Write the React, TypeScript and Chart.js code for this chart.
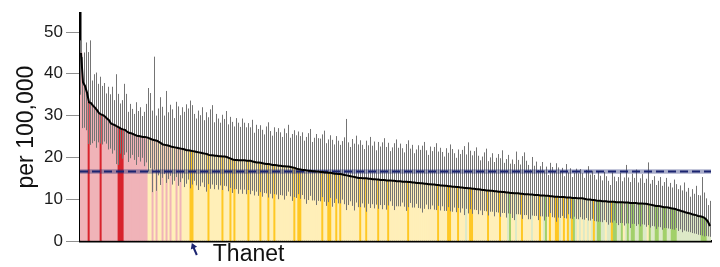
import React, { useEffect, useRef } from "react";
import { Chart, registerables } from "chart.js";

Chart.register(...registerables);

// Rate per 100,000 for each area, sorted descending
const rates: number[] = [
  45.0, 38.0, 37.1, 35.5, 33.2, 33.0, 32.4, 31.9, 31.3, 30.6,
  30.3, 30.1, 29.8, 29.3, 28.9, 28.1, 27.9, 27.7, 27.4, 27.2,
  26.9, 26.7, 26.6, 26.2, 25.9, 25.8, 25.6, 25.4, 25.2, 25.1,
  25.0, 24.9, 24.9, 24.8, 24.6, 24.4, 24.2, 24.1, 24.0, 23.7,
  23.4, 23.1, 23.0, 22.9, 22.8, 22.6, 22.5, 22.4, 22.3, 22.2,
  22.1, 22.0, 21.9, 21.7, 21.7, 21.6, 21.5, 21.4, 21.3, 21.2,
  21.1, 21.0, 20.9, 20.8, 20.6, 20.5, 20.5, 20.4, 20.4, 20.3,
  20.3, 20.2, 20.2, 20.1, 19.9, 19.7, 19.5, 19.4, 19.4, 19.3,
  19.3, 19.3, 19.3, 19.2, 19.2, 19.2, 19.0, 18.9, 18.8, 18.8,
  18.7, 18.6, 18.5, 18.4, 18.4, 18.3, 18.2, 18.2, 18.1, 18.0,
  18.0, 17.9, 17.9, 17.8, 17.8, 17.7, 17.6, 17.5, 17.3, 17.2,
  17.1, 17.0, 17.0, 16.9, 16.8, 16.8, 16.7, 16.7, 16.6, 16.6,
  16.5, 16.5, 16.4, 16.4, 16.3, 16.3, 16.2, 16.1, 16.1, 16.0,
  16.0, 15.9, 15.8, 15.7, 15.6, 15.5, 15.4, 15.3, 15.2, 15.1,
  15.1, 15.0, 15.0, 15.0, 14.9, 14.9, 14.8, 14.8, 14.7, 14.7,
  14.6, 14.6, 14.6, 14.5, 14.5, 14.5, 14.4, 14.4, 14.3, 14.3,
  14.3, 14.2, 14.2, 14.2, 14.1, 14.1, 14.0, 14.0, 13.9, 13.9,
  13.8, 13.8, 13.7, 13.7, 13.6, 13.6, 13.5, 13.5, 13.4, 13.4,
  13.3, 13.3, 13.2, 13.2, 13.1, 13.1, 13.0, 13.0, 12.9, 12.9,
  12.8, 12.8, 12.7, 12.7, 12.6, 12.6, 12.5, 12.5, 12.4, 12.4,
  12.3, 12.2, 12.2, 12.1, 12.1, 12.0, 12.0, 11.9, 11.9, 11.8,
  11.8, 11.7, 11.7, 11.6, 11.6, 11.5, 11.5, 11.4, 11.4, 11.4,
  11.3, 11.3, 11.2, 11.2, 11.2, 11.1, 11.1, 11.0, 11.0, 11.0,
  10.9, 10.9, 10.9, 10.8, 10.8, 10.7, 10.7, 10.6, 10.6, 10.6,
  10.5, 10.5, 10.5, 10.4, 10.4, 10.4, 10.3, 10.3, 10.3, 10.2,
  10.2, 10.2, 10.1, 10.0, 9.9, 9.9, 9.8, 9.8, 9.7, 9.6,
  9.6, 9.5, 9.5, 9.5, 9.4, 9.4, 9.4, 9.4, 9.3, 9.3,
  9.3, 9.3, 9.2, 9.2, 9.2, 9.1, 9.1, 9.1, 9.1, 9.0,
  9.0, 9.0, 8.9, 8.9, 8.8, 8.7, 8.6, 8.5, 8.4, 8.4,
  8.3, 8.2, 8.1, 8.1, 8.0, 7.9, 7.8, 7.7, 7.6, 7.4,
  7.3, 7.1, 7.0, 6.8, 6.7, 6.6, 6.4, 6.3, 6.2, 6.0,
  5.9, 5.8, 5.6, 5.2, 4.6, 3.6,
];

// Upper confidence interval distance above the rate
const errPlus: number[] = [
  3, 6, 8, 12, 12, 15, 6, 8, 9, 7,
  9, 7, 8, 6, 8, 7, 9, 6, 12.5, 8,
  6, 7, 11, 9, 5, 7, 6, 5, 8, 6,
  7, 5, 6, 8, 12, 11, 7, 20, 6, 8,
  11, 9, 7, 13, 8, 10, 9, 7, 11, 10,
  8, 10, 9, 11, 10, 12, 11, 9, 8, 10,
  9, 11, 8, 10, 9, 11, 12, 8, 10, 9,
  8, 10, 9, 11, 8, 10, 9, 8, 10, 9,
  8, 10, 9, 8, 9, 8, 10, 7, 9, 8,
  9, 8, 7, 9, 10, 8, 7, 9, 8, 9,
  8, 7, 9, 8, 10, 7, 8, 9, 8, 9,
  8, 9, 7, 8, 9, 10, 7, 8, 9, 8,
  8, 9, 10, 7, 8, 9, 8, 7, 9, 8,
  7, 8, 9, 13.5, 8, 7, 9, 8, 10, 8,
  9, 8, 7, 9, 8, 10, 8, 9, 7, 9,
  8, 9, 10, 8, 9, 7, 8, 9, 10, 8,
  9, 8, 7, 9, 10, 8, 9, 7, 8, 9,
  8, 9, 10, 8, 7, 9, 8, 9, 10, 8,
  9, 8, 7, 9, 8, 10, 9, 8, 7, 9,
  8, 9, 10, 8, 11, 9, 8, 9, 10, 8,
  7, 8, 9, 10, 7, 8, 9, 7, 8, 9,
  8, 10, 7, 8, 9, 7, 8, 7, 10, 8,
  7, 9, 10, 8, 7, 6, 9, 7, 8, 6,
  7, 8, 6, 7, 5, 8, 7, 6, 8, 7,
  6, 7, 5, 8, 6, 7, 5, 6, 7, 6,
  7, 6, 5, 7, 8, 6, 7, 6, 5, 7,
  6, 5, 7, 6, 5, 4, 7, 6, 5, 6,
  7, 5, 6, 9, 6, 5, 7, 6, 8, 5,
  6, 7, 5, 6, 10, 5, 6, 7, 5, 6,
  7, 5, 6, 7, 5, 6, 5, 7, 6, 5,
  6, 5, 7, 5, 6, 4, 6, 5, 7, 5,
  5, 9.5, 6, 5, 4, 6,
];

// Lower confidence interval distance below the rate
const errMinus: number[] = [
  10, 11, 10, 9, 10, 10, 9, 8, 9, 7,
  7, 7, 6, 6, 7, 6, 7, 6, 9, 9,
  6, 7, 6, 5, 7, 6, 5, 6, 7, 5,
  6, 5, 7, 6, 8, 7, 12.5, 7, 12, 8,
  10, 8, 7, 9, 8, 7, 9, 8, 7, 9,
  8, 7, 9, 8, 7, 9, 8, 7, 8, 9,
  8, 7, 8, 9, 7, 8, 7, 8, 7, 8,
  7, 8, 7, 7, 8, 7, 8, 7, 7, 8,
  7, 8, 7, 8, 7, 8, 7, 8, 7, 8,
  7, 8, 7, 7, 8, 7, 8, 7, 7, 8,
  7, 7, 8, 7, 6, 7, 8, 7, 7, 6,
  7, 6, 7, 8, 7, 6, 7, 7, 8, 7,
  7, 6, 7, 8, 7, 6, 8, 7, 6, 7,
  7, 6, 7, 8.3, 7, 6, 7, 8, 6, 7,
  7, 6, 7, 8, 6, 7, 6, 7, 6, 7,
  6, 7, 6, 7, 6, 5, 6, 7, 6, 6,
  6, 5, 6, 7, 6, 5, 6, 6, 5, 6,
  6, 7, 6, 5, 6, 6, 5, 6, 6, 5,
  6, 5, 6, 6, 5, 6, 6, 5, 6, 5,
  6, 5, 6.5, 5, 6, 5, 6, 5, 5, 6,
  5, 6, 5, 5, 6, 5, 5, 6, 5, 5,
  6, 5, 5, 6, 5, 5, 6, 6.4, 5, 5,
  5, 6, 5, 5, 6, 5.9, 5, 5, 5, 6,
  5, 5, 6, 5, 5, 4, 5, 5, 6, 5,
  5, 4.5, 5, 5, 4, 5, 5, 4.5, 5, 5,
  4.5, 5, 5, 4.5, 5, 5, 4.5, 5, 5, 5,
  5, 5, 4.5, 5, 5.5, 5, 5, 4.5, 5, 5.5,
  5, 5, 5.5, 5, 5, 6, 5, 5, 5.5, 5,
  5.5, 5, 5, 5.5, 5, 5.5, 5, 5, 5.5, 5,
  5, 5.5, 5, 5, 5, 5, 5, 5, 4.5, 5,
  4.5, 5, 4.5, 4.5, 4.5, 4.5, 4.5, 4.5, 4.5, 4.5,
  4.5, 4.5, 4.5, 4, 3.5, 2.6,
];

// Comparison category per area: p = higher (n.s.), r = significantly higher,
// y = similar, g = similar (flagged), l = lower (n.s.), G = significantly lower
const categoryCodes: string[] = [
  "pppprppppp", "rppppppppr", "rrpppppppp", "ppppyypypy", "ypypypyypy",
  "pyyyyggyyy", "yyyygyyyyy", "ygyyygygyy", "yyyygyyyyy", "gyyygyygyy",
  "yyyyyyygyg", "gyyyyyyyyy", "ygyyggyygy", "gyyyyyyyyy", "gyygyyyyyg",
  "yyyygyyyyy", "yyyygyyyyy", "yyyyyyyyyg", "yyyyggyyyg", "yyylyggyyy",
  "yyyygyyyyy", "gyyylGyyly", "ygyyyylyyy", "gylGygyygg", "lygyglgGly",
  "lylylylglG", "GllyllgGGl", "lGylGlGGll", "GGllyGllGG", "llGGllGGGl",
  "llllllllll", "lGGGll",
];

const categoryColors: Record<string, string> = {
  p: "#f0b3b8",
  r: "#d8232c",
  y: "#ffefb8",
  g: "#ffc824",
  l: "#dde9c7",
  G: "#a2d06a",
};

const englandRate = 16.6;
const englandLower = 16.1;
const englandUpper = 17.15;

const yTicks: number[] = [0, 10, 20, 30, 40, 50];
const yMax = 54.5;
const yTitle = "per 100,000";

const highlightLabel = "Thanet";
const highlightIndex = 56;

const FONT = "'Liberation Sans', Arial, Helvetica, sans-serif";

export default function App() {
  const canvasRef = useRef<HTMLCanvasElement | null>(null);

  useEffect(() => {
    const canvas = canvasRef.current;
    if (!canvas) return;
    const n = Math.min(rates.length, errPlus.length, errMinus.length);
    const codes = categoryCodes.join("");
    const labels = rates.slice(0, n).map((_, i) => String(i + 1));
    const colors = rates.slice(0, n).map((_, i) => categoryColors[codes[i]] || categoryColors.y);

    const overlay = {
      id: "overlay",
      afterDatasetDraw(chart: any, args: any) {
        if (args.index !== 0) return;
        const { ctx, chartArea } = chart;
        const x = chart.scales.x;
        const y = chart.scales.y;
        ctx.save();
        ctx.beginPath();
        ctx.rect(chartArea.left, chartArea.top, chartArea.right - chartArea.left, chartArea.bottom - chartArea.top);
        ctx.clip();
        // error bars
        ctx.strokeStyle = "#747474";
        ctx.lineWidth = 1;
        ctx.beginPath();
        for (let i = 0; i < n; i++) {
          const px = Math.floor(x.getPixelForValue(i)) + 0.5;
          ctx.moveTo(px, y.getPixelForValue(rates[i] + errPlus[i]));
          ctx.lineTo(px, y.getPixelForValue(Math.max(0, rates[i] - errMinus[i])));
        }
        ctx.stroke();
        // England band
        const yTop = y.getPixelForValue(englandUpper);
        const yBot = y.getPixelForValue(englandLower);
        ctx.fillStyle = "rgba(27,36,112,0.38)";
        ctx.fillRect(chartArea.left, yTop, chartArea.right - chartArea.left, yBot - yTop);
        // England dashed line
        const ye = y.getPixelForValue(englandRate);
        ctx.setLineDash([8, 4]);
        ctx.strokeStyle = "#1b2470";
        ctx.lineWidth = 2;
        ctx.beginPath();
        ctx.moveTo(chartArea.left, ye);
        ctx.lineTo(chartArea.right, ye);
        ctx.stroke();
        ctx.restore();
      },
      afterDraw(chart: any) {
        const { ctx, chartArea } = chart;
        const x = chart.scales.x;
        const tipX = x.getPixelForValue(highlightIndex) - 1;
        const tipY = chartArea.bottom + 2;
        const tailX = tipX + 5;
        const tailY = chartArea.bottom + 14;
        ctx.save();
        ctx.strokeStyle = "#1b2470";
        ctx.fillStyle = "#1b2470";
        ctx.lineWidth = 2;
        ctx.beginPath();
        ctx.moveTo(tailX, tailY);
        ctx.lineTo(tipX + 1.5, tipY + 4);
        ctx.stroke();
        const ang = Math.atan2(tipY - tailY, tipX - tailX);
        const hl = 6.5;
        ctx.beginPath();
        ctx.moveTo(tipX, tipY);
        ctx.lineTo(tipX - hl * Math.cos(ang - 0.55), tipY - hl * Math.sin(ang - 0.55));
        ctx.lineTo(tipX - hl * Math.cos(ang + 0.55), tipY - hl * Math.sin(ang + 0.55));
        ctx.closePath();
        ctx.fill();
        ctx.fillStyle = "#111";
        ctx.font = `23px ${FONT}`;
        ctx.textAlign = "left";
        ctx.textBaseline = "alphabetic";
        ctx.fillText(highlightLabel, tipX + 21, chartArea.bottom + 20);
        ctx.restore();
      },
    };

    const chart = new Chart(canvas, {
      type: "bar",
      data: {
        labels,
        datasets: [
          {
            type: "bar",
            data: rates.slice(0, n),
            backgroundColor: colors,
            borderWidth: 0,
            barPercentage: 1,
            categoryPercentage: 1,
            order: 1,
          } as any,
          {
            type: "line",
            data: rates.slice(0, n),
            borderColor: "#000",
            borderWidth: 2,
            pointRadius: 0,
            tension: 0,
            fill: false,
            order: 0,
          } as any,
        ],
      },
      options: {
        animation: false,
        responsive: false,
        maintainAspectRatio: false,
        layout: { padding: { top: 12, right: 9, bottom: 0, left: 0 } },
        plugins: {
          legend: { display: false },
          tooltip: { enabled: false },
        },
        scales: {
          x: {
            type: "category",
            offset: true,
            grid: { display: false },
            border: { display: true, color: "#000", width: 2.5 },
            ticks: { display: false },
            afterFit: (s: any) => {
              s.height = 26;
            },
          },
          y: {
            min: 0,
            max: yMax,
            afterBuildTicks: (s: any) => {
              s.ticks = yTicks.map((v) => ({ value: v }));
            },
            grid: {
              display: true,
              drawOnChartArea: false,
              drawTicks: true,
              tickLength: 14,
              tickColor: "#8f8f8f",
              tickWidth: 1,
            },
            border: { display: true, color: "#000", width: 2.5 },
            ticks: {
              padding: 3,
              color: "#1a1a1a",
              font: { family: FONT, size: 17 },
            },
            title: {
              display: true,
              text: yTitle,
              color: "#111",
              font: { family: FONT, size: 23 },
              padding: { top: 13, bottom: 0 },
            },
            afterFit: (s: any) => {
              s.width = 80;
            },
          },
        },
      } as any,
      plugins: [overlay],
    });

    return () => chart.destroy();
  }, []);

  return (
    <div style={{ position: "fixed", left: 0, top: 0, width: 720, height: 267, background: "#fff" }}>
      <canvas ref={canvasRef} width={720} height={267} style={{ display: "block" }} />
    </div>
  );
}
